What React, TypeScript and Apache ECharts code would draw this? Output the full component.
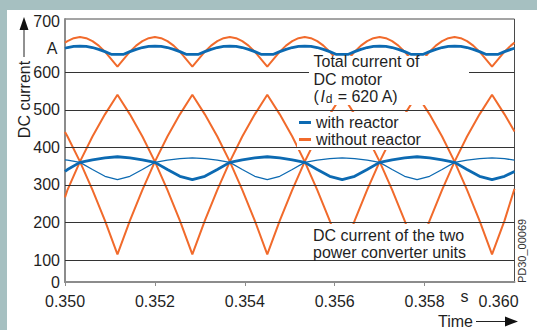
import React, { useEffect, useRef } from "react";
import * as echarts from "echarts";

const FONT = '"Liberation Sans", Arial, Helvetica, sans-serif';

// time axis samples for the converter-unit currents (s)
const time = [
  0.35, 0.350056, 0.350333, 0.350611, 0.350889,
  0.351167, 0.351444, 0.351722, 0.352, 0.352278, 0.352556,
  0.352833, 0.353111, 0.353389, 0.353667, 0.353944, 0.354222,
  0.3545, 0.354778, 0.355056, 0.355333, 0.355611, 0.355889,
  0.356167, 0.356444, 0.356722, 0.357, 0.357278, 0.357556,
  0.357833, 0.358111, 0.358389, 0.358667, 0.358944, 0.359222,
  0.3595, 0.359778, 0.36,
];

// finer time samples for the total motor currents (s)
const timeFine = [
  0.35,
  0.350056, 0.350194, 0.350333, 0.350472, 0.350611, 0.35075, 0.350889, 0.351028,
  0.351167, 0.351306, 0.351444, 0.351583, 0.351722, 0.351861, 0.352, 0.352139, 0.352278, 0.352417, 0.352556, 0.352694,
  0.352833, 0.352972, 0.353111, 0.35325, 0.353389, 0.353528, 0.353667, 0.353806, 0.353944, 0.354083, 0.354222, 0.354361,
  0.3545, 0.354639, 0.354778, 0.354917, 0.355056, 0.355194, 0.355333, 0.355472, 0.355611, 0.35575, 0.355889, 0.356028,
  0.356167, 0.356306, 0.356444, 0.356583, 0.356722, 0.356861, 0.357, 0.357139, 0.357278, 0.357417, 0.357556, 0.357694,
  0.357833, 0.357972, 0.358111, 0.35825, 0.358389, 0.358528, 0.358667, 0.358806, 0.358944, 0.359083, 0.359222, 0.359361,
  0.3595, 0.359639, 0.359778, 0.359917,
  0.36,
];

// total current of DC motor, without reactor (A)
const totalWithout = [
  679,
  683, 691, 694, 691, 683, 671, 655, 635,
  615, 635, 655, 671, 683, 691, 694, 691, 683, 671, 655, 635,
  615, 635, 655, 671, 683, 691, 694, 691, 683, 671, 655, 635,
  615, 635, 655, 671, 683, 691, 694, 691, 683, 671, 655, 635,
  615, 635, 655, 671, 683, 691, 694, 691, 683, 671, 655, 635,
  615, 635, 655, 671, 683, 691, 694, 691, 683, 671, 655, 635,
  615, 635, 655, 671,
  679,
];

// total current of DC motor, with reactor (A)
const totalWith = [
  664,
  666, 669, 670, 669, 666, 661, 655, 648,
  648, 648, 655, 661, 666, 669, 670, 669, 666, 661, 655, 648,
  648, 648, 655, 661, 666, 669, 670, 669, 666, 661, 655, 648,
  648, 648, 655, 661, 666, 669, 670, 669, 666, 661, 655, 648,
  648, 648, 655, 661, 666, 669, 670, 669, 666, 661, 655, 648,
  648, 648, 655, 661, 666, 669, 670, 669, 666, 661, 655, 648,
  648, 648, 655, 661,
  664,
];

// converter unit 1, without reactor (A)
const unitAWithout = [
  267, 287, 362, 429, 488,
  540, 488, 429, 362, 287, 205,
  115, 205, 287, 362, 429, 488,
  540, 488, 429, 362, 287, 205,
  115, 205, 287, 362, 429, 488,
  540, 488, 429, 362, 287, 205,
  115, 205, 290,
];

// converter unit 2, without reactor (A)
const unitBWithout = [
  441, 429, 362, 287, 205,
  115, 205, 287, 362, 429, 488,
  540, 488, 429, 362, 287, 205,
  115, 205, 287, 362, 429, 488,
  540, 488, 429, 362, 287, 205,
  115, 205, 287, 362, 429, 488,
  540, 488, 442,
];

// converter unit 1, with reactor (A)
const unitAWith = [
  336, 341, 360, 367, 372,
  375, 372, 367, 360, 341, 323,
  314, 323, 341, 360, 367, 372,
  375, 372, 367, 360, 341, 323,
  314, 323, 341, 360, 367, 372,
  375, 372, 367, 360, 341, 323,
  314, 323, 336,
];

// converter unit 2, with reactor (A)
const unitBWith = [
  367, 366, 360, 341, 323,
  314, 323, 341, 360, 366, 370,
  372, 370, 366, 360, 341, 323,
  314, 323, 341, 360, 366, 370,
  372, 370, 366, 360, 341, 323,
  314, 323, 341, 360, 366, 370,
  372, 370, 366,
];

const yGridValues = [100, 200, 300, 400, 500, 600];
const yLabelValues = [41.4, 100, 200, 300, 400, 500, 600, 735];
const yLabelTexts = ["0", "100", "200", "300", "400", "500", "600", "700"];
const xMaxLabel = "0.360";

const BLUE = "#0c6ab2";
const ORANGE = "#f16a2b";
const TXT = "#1f1f1f";

const pairs = (ts: number[], vals: number[]) => ts.map((t, i) => [t, vals[i]]);

const txt = (text: string, x: number, y: number, extra: any = {}, styleExtra: any = {}) => ({
  type: "text",
  x,
  y,
  z: 10,
  ...extra,
  style: {
    text,
    fontSize: 16,
    fontFamily: FONT,
    fill: TXT,
    align: "left",
    verticalAlign: "middle",
    ...styleExtra,
  },
});

export default function App() {
  const ref = useRef<HTMLDivElement>(null);

  useEffect(() => {
    document.body.style.margin = "0";
    if (!ref.current) return;
    const chart = echarts.init(ref.current, undefined, { renderer: "svg" });

    const line = (name: string, data: number[][], color: string, width: number, extra: any = {}) => ({
      type: "line",
      name,
      data,
      showSymbol: false,
      symbol: "none",
      color,
      lineStyle: { color, width },
      silent: true,
      ...extra,
    });

    const option: any = {
      animation: false,
      backgroundColor: "#ffffff",
      textStyle: { fontFamily: FONT },
      grid: {
        left: 65,
        right: 22.5,
        top: 19,
        bottom: 48,
        show: true,
        borderColor: "#4a4a4a",
        borderWidth: 1,
        backgroundColor: "transparent",
      },
      xAxis: {
        type: "value",
        min: 0.35,
        max: 0.36,
        interval: 0.002,
        axisLine: { show: true, onZero: false, lineStyle: { color: "#8c8c8c", width: 2 } },
        axisTick: { show: true, length: 4, lineStyle: { color: "#8c8c8c", width: 1 } },
        axisLabel: {
          fontSize: 16,
          color: TXT,
          margin: 11,
          showMaxLabel: false,
          fontFamily: FONT,
          formatter: (v: number) => v.toFixed(3),
        },
        splitLine: { show: false },
      },
      yAxis: {
        type: "value",
        min: 41.4,
        max: 742,
        axisLine: { show: true, lineStyle: { color: "#8c8c8c", width: 2 } },
        axisTick: { show: false },
        splitLine: { show: false },
        axisLabel: {
          customValues: yLabelValues,
          fontSize: 16,
          color: TXT,
          margin: 5,
          fontFamily: FONT,
          formatter: (v: number) => {
            const i = yLabelValues.findIndex((u) => Math.abs(u - v) < 0.5);
            if (i >= 0) return yLabelTexts[i];
            if (v < 60) return "0";
            if (v > 720) return "700";
            return "";
          },
        },
      },
      legend: {
        show: true,
        orient: "vertical",
        left: 297,
        top: 112,
        itemWidth: 12,
        itemHeight: 3,
        itemGap: 0,
        icon: "rect",
        backgroundColor: "#ffffff",
        padding: [2, 4, 2, 2],
        selectedMode: false,
        textStyle: { fontSize: 16, color: TXT, lineHeight: 17, fontFamily: FONT },
        data: ["with reactor", "without reactor"],
      },
      series: [
        line("without reactor", pairs(timeFine, totalWithout), ORANGE, 2, {
          markLine: {
            silent: true,
            symbol: ["none", "none"],
            label: { show: false },
            lineStyle: { color: "#333333", width: 1, type: "solid" },
            data: yGridValues.map((v) => ({ yAxis: v })),
          },
        }),
        line("without reactor", pairs(time, unitAWithout), ORANGE, 2),
        line("without reactor", pairs(time, unitBWithout), ORANGE, 2),
        line("with reactor", pairs(timeFine, totalWith), BLUE, 2.8),
        line("with reactor", pairs(time, unitAWith), BLUE, 2.8),
        line("with reactor", pairs(time, unitBWith), BLUE, 1.3),
      ],
      graphic: [
        // frame bands
        { type: "rect", z: 10, shape: { x: 0, y: 0, width: 537, height: 10 }, style: { fill: "#a6c0c1" } },
        { type: "rect", z: 10, shape: { x: 0, y: 0, width: 7, height: 330 }, style: { fill: "#a6c0c1" } },
        // y unit and axis name with arrow
        txt("A", 57.5, 48, {}, { align: "right" }),
        txt("DC current", 24, 99.5, { rotation: Math.PI / 2 }, { align: "center" }),
        { type: "line", z: 10, shape: { x1: 24, y1: 57, x2: 24, y2: 29 }, style: { stroke: "#222", lineWidth: 1 } },
        { type: "polygon", z: 10, shape: { points: [[24, 17], [19.5, 30], [28.5, 30]] }, style: { fill: "#111" } },
        // x max label, unit and axis name with arrow
        txt(xMaxLabel, 498.5, 301, {}, { align: "center" }),
        txt("s", 464.5, 296.5, {}, { align: "center" }),
        txt("Time", 438, 321),
        { type: "line", z: 10, shape: { x1: 476, y1: 321.5, x2: 506, y2: 321.5 }, style: { stroke: "#222", lineWidth: 1 } },
        { type: "polygon", z: 10, shape: { points: [[518, 321.5], [505, 316.5], [505, 326.5]] }, style: { fill: "#111" } },
        // drawing id
        txt("PD30_00069", 522, 251, { rotation: Math.PI / 2 }, { align: "center", fontSize: 11, fill: "#333" }),
        // top annotation
        { type: "rect", z: 10, shape: { x: 309, y: 56, width: 160, height: 49 }, style: { fill: "#ffffff" } },
        txt("Total current of", 313.5, 61.7),
        txt("DC motor", 313.5, 79),
        txt("(", 313.5, 96.5),
        txt("I", 320.5, 96.5, {}, { fontStyle: "italic" }),
        txt("d", 325.8, 99, {}, { fontSize: 12 }),
        txt(" = 620 A)", 333.2, 96.5),
        // bottom annotation
        { type: "rect", z: 10, shape: { x: 310, y: 224, width: 160, height: 35 }, style: { fill: "#ffffff" } },
        txt("DC current of the two", 313, 235),
        txt("power converter units", 313, 252.7),
      ],
    };

    chart.setOption(option);
    return () => chart.dispose();
  }, []);

  return <div ref={ref} style={{ width: 537, height: 330 }} />;
}
